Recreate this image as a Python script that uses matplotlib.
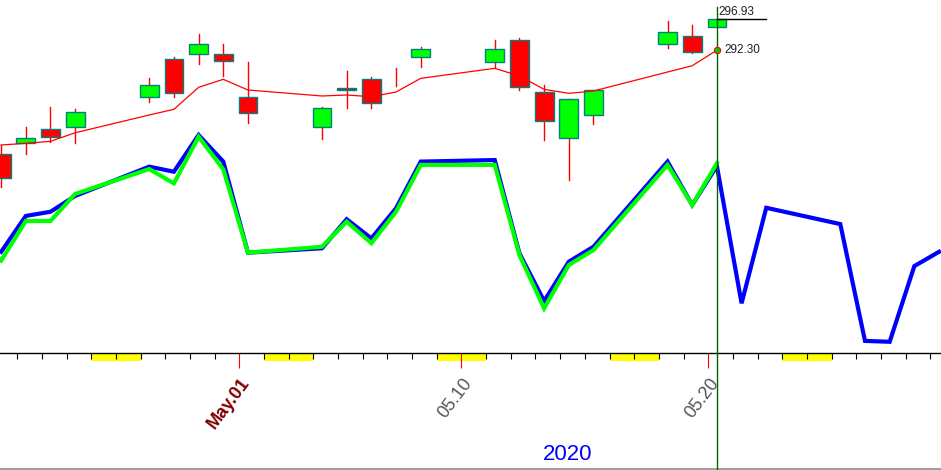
import matplotlib.pyplot as plt
import matplotlib.transforms as mtransforms
from matplotlib.lines import Line2D
import numpy as np
import pandas as pd

plt.rcParams['font.family'] = ['Liberation Sans', 'DejaVu Sans']

# candle data (trading days)
cdates = ['2020-04-21', '2020-04-22', '2020-04-23', '2020-04-24', '2020-04-27',
          '2020-04-28', '2020-04-29', '2020-04-30', '2020-05-01', '2020-05-04',
          '2020-05-05', '2020-05-06', '2020-05-07', '2020-05-08', '2020-05-11',
          '2020-05-12', '2020-05-13', '2020-05-14', '2020-05-15', '2020-05-18',
          '2020-05-19', '2020-05-20']
opens = [276.73, 278.42, 280.48, 280.82, 285.23, 290.93, 291.68, 291.73, 285.23, 280.82,
         286.58, 287.93, 288.30, 291.23, 290.48, 293.78, 285.98, 279.08, 282.53, 293.18,
         294.38, 295.82]
closes = [273.13, 279.08, 279.23, 282.98, 287.08, 285.83, 293.23, 290.63, 282.83, 283.58,
          286.28, 284.33, 288.30, 292.43, 292.43, 286.73, 281.63, 284.93, 286.28, 294.98,
          292.07, 296.93]
highs = [278.08, 280.82, 283.78, 283.47, 288.12, 291.27, 294.77, 293.27, 290.57, 283.82,
         289.22, 288.32, 289.67, 292.78, 293.83, 294.13, 287.08, 284.93, 286.28, 296.68,
         296.08, 296.93]
lows = [271.78, 276.73, 278.57, 278.42, 284.57, 285.32, 290.27, 288.43, 281.42, 279.02,
        283.67, 283.67, 286.97, 289.82, 289.82, 286.37, 278.87, 272.87, 281.27, 292.67,
        291.92, 295.82]
ma = [278.08, 278.33, 278.63, 279.92, 282.58, 283.43, 286.73, 287.93, 286.33, 285.43,
      285.58, 285.32, 286.03, 288.08, 289.58, 288.43, 286.43, 285.83, 286.18, 289.03,
      289.97, 292.30]

# oscillator lines
extra_dates = ['2020-05-21', '2020-05-22', '2020-05-25', '2020-05-26', '2020-05-27',
               '2020-05-28', '2020-05-29']
blue = [46.0, 62.3, 64.2, 71.4, 84.7, 82.4, 99.1, 87.0, 45.6, 47.6, 60.8, 52.1, 65.8,
        87.0, 87.7, 45.3, 23.6, 41.5, 48.3, 87.0, 67.3, 85.0,
        22.6, 66.0, 58.6, 5.5, 5.1, 39.5, 46.0]
green = [42.0, 60.0, 60.0, 72.3, 83.6, 77.1, 98.3, 83.5, 45.6, 48.3, 59.7, 49.9, 64.2,
         85.5, 85.5, 44.5, 20.3, 40.0, 46.8, 85.5, 67.3, 86.2]

label_dates = ['2020-05-01', '2020-05-10', '2020-05-20']
label_texts = ['May.01', '05.10', '05.20']
weekend_starts = ['2020-04-25', '2020-05-02', '2020-05-09', '2020-05-16', '2020-05-23']
last_price = 296.93
last_ma = 292.30

base = pd.Timestamp('2020-05-01')
def dayno(ds):
    return np.array([(pd.Timestamp(d) - base).days for d in ds], dtype=float)

off = 0.35
xc = dayno(cdates) + off
xb = np.concatenate([xc, dayno(extra_dates) + off])

fig = plt.figure(figsize=(9.41, 4.70), dpi=100)
ax = fig.add_axes([0, 117 / 470, 1, 353 / 470])
ax2 = ax.twinx()
ax.set_zorder(2)
ax.patch.set_visible(False)

ax.set_xlim(-9.696, 28.43)
ax.set_ylim(246.88, 299.83)
ax2.set_ylim(0, 160.45)

# oscillator
ax2.plot(xb, blue, color='#0000FF', lw=3.0, solid_joinstyle='miter')
ax2.plot(xc[:len(green)], green, color='#00FF00', lw=3.0, solid_joinstyle='miter')

# candles
w = 0.76
for x, o, c, h, l in zip(xc, opens, closes, highs, lows):
    ax.plot([x, x], [l, h], color='#FF0000', lw=1.0, zorder=2)
    if o != c:
        col = '#00FF00' if c > o else '#FF0000'
        ax.bar(x, c - o, bottom=o, width=w, color=col, edgecolor='#008080',
               linewidth=1.0, zorder=3)

ax.plot(xc, ma, color='#FF0000', lw=0.9, zorder=4)
ax.plot(xc[-1], last_ma, 'o', ms=4.5, mfc='#00CC00', mec='#FF0000', mew=0.8, zorder=6)

# current position marker
blend = mtransforms.blended_transform_factory(ax.transData, ax.transAxes)
ax.plot([xc[-1], xc[-1]], [-117 / 353, 346 / 353], color='#006400', lw=1.0,
        transform=blend, clip_on=False, zorder=5)
ax.plot([xc[-1], xc[-1] + 2.0], [last_price, last_price], color='black', lw=1.0, zorder=5)
ax.text(xc[-1] + 0.05, last_price + 0.2, '%.2f' % last_price, fontsize=8.5,
        color='#202020', ha='left', va='bottom', zorder=6)
ax.text(xc[-1] + 0.3, last_ma, '%.2f' % last_ma, fontsize=8.5,
        color='#202020', ha='left', va='center', zorder=6)

# axes styling
for s in ['top', 'left', 'right']:
    ax.spines[s].set_visible(False)
    ax2.spines[s].set_visible(False)
ax2.spines['bottom'].set_visible(False)
ax.spines['bottom'].set_linewidth(1.0)
ax.set_yticks([])
ax2.set_yticks([])

ticks = np.arange(-9, 29)
lab_days = dayno(label_dates)
ax.set_xticks([t for t in ticks if t not in lab_days], minor=True)
ax.set_xticks(lab_days)
ax.set_xticklabels([])
ax.tick_params(axis='x', which='minor', direction='out', length=4.3, width=0.8, color='black')
ax.tick_params(axis='x', which='major', direction='out', length=10.8, width=0.8, color='#FF0000')

# weekend bands below the axis
for d in dayno(weekend_starts):
    ax.add_patch(plt.Rectangle((d, -8 / 353), 2, 8 / 353, transform=blend,
                               facecolor='#FFFF00', edgecolor='none', clip_on=False, zorder=1))

# date labels
for d, t in zip(lab_days, label_texts):
    if t.startswith('May'):
        kw = dict(color='#800000', fontweight='bold')
    else:
        kw = dict(color='#555555')
    ax.text(d + off - 0.05, -27 / 353, t, transform=blend, rotation=53, rotation_mode='anchor',
            ha='right', va='center', fontsize=13, clip_on=False, **kw)

fig.text(568 / 941, 16 / 470, '2020', color='#0000FF', fontsize=16, ha='center', va='center')
fig.add_artist(Line2D([0, 1], [0.6 / 470, 0.6 / 470], color='#A0A0A0', lw=1.5))

fig.savefig('out.png', dpi=100)
